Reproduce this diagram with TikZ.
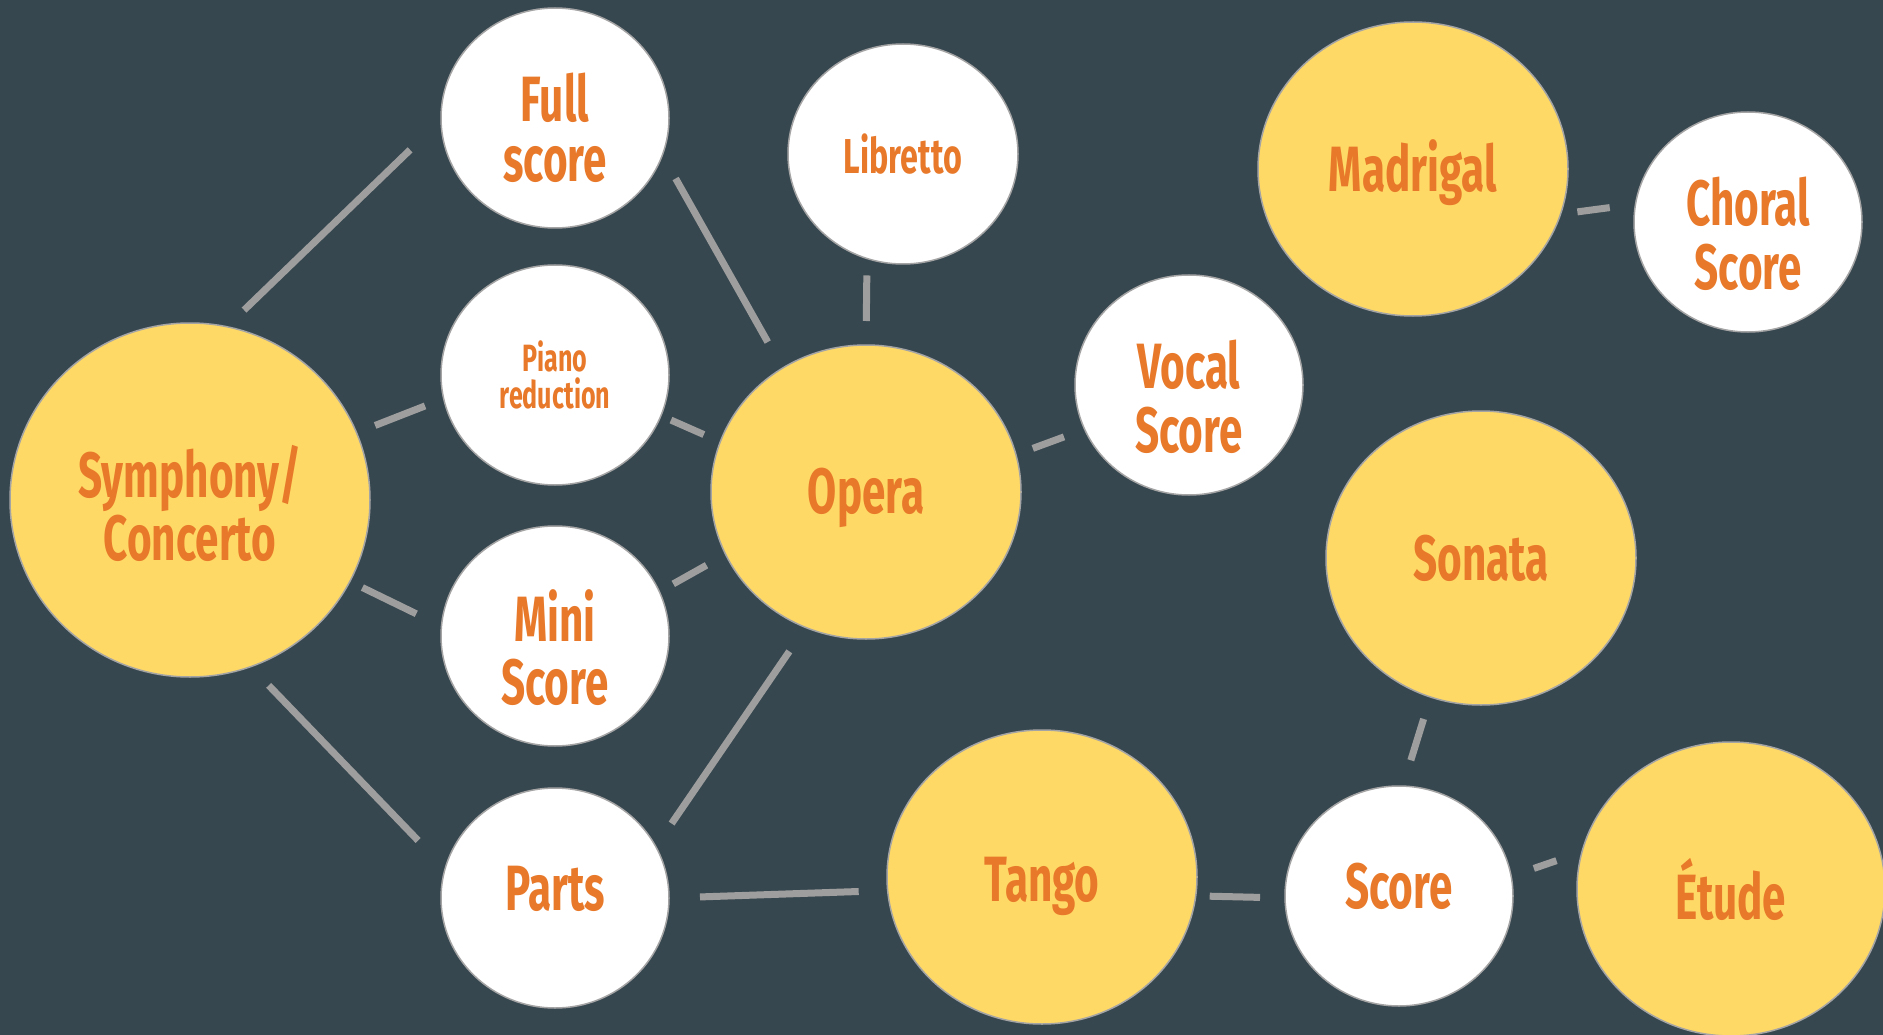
\documentclass[tikz,border=0pt]{standalone}
\usepackage{fontspec}
\usetikzlibrary{shapes.geometric}
\newfontfamily\labfont{Fira Sans}[FakeStretch=0.66]
\definecolor{bg}{HTML}{37474F}
\definecolor{yel}{HTML}{FFD966}
\definecolor{txt}{HTML}{E8792A}
\definecolor{edgegray}{HTML}{9E9E9E}
\definecolor{rimgray}{HTML}{A4A4A4}
\newcommand{\shifttxt}[2]{\raisebox{#1}[\height][\depth]{\begin{tabular}{@{}c@{}}#2\end{tabular}}}
\tikzset{
  bub/.style={ellipse, draw=rimgray, line width=1.5pt, inner sep=0pt, outer sep=0pt,
    text=txt, align=center, font=\labfont\bfseries\fontsize{64}{60}\selectfont},
  bigbub/.style={bub, fill=yel, minimum width=310pt, minimum height=294pt},
  smallbub/.style={bub, fill=white, minimum width=228pt, minimum height=220pt},
  conn/.style={draw=edgegray, line width=7pt}
}
\begin{document}
\begin{tikzpicture}[x=1pt,y=-1pt]
\useasboundingbox (0,0) rectangle (1883,1035);
\fill[bg] (0,0) rectangle (1883,1035);
\clip (0,0) rectangle (1883,1035);

\node[bigbub, minimum width=360pt, minimum height=354pt] (sym) at (190,500) {\shifttxt{-12pt}{Symphony/\\Concerto}};
\node[smallbub] (full) at (555,118) {\shifttxt{-18pt}{Full\\score}};
\node[smallbub, font=\labfont\bfseries\fontsize{38}{37}\selectfont] (piano) at (555,375) {Piano\\reduction};
\node[smallbub] (mini) at (555,636) {\shifttxt{-20pt}{Mini\\Score}};
\node[smallbub] (parts) at (555,898) {\shifttxt{1pt}{Parts}};
\node[smallbub, minimum width=230pt, font=\labfont\bfseries\fontsize{49}{50}\selectfont] (lib) at (903,154) {Libretto};
\node[bigbub] (opera) at (866,492) {\shifttxt{-8pt}{Opera}};
\node[smallbub] (vocal) at (1189,385) {\shifttxt{-20pt}{Vocal\\Score}};
\node[bigbub] (madr) at (1413,169) {\shifttxt{-6pt}{Madrigal}};
\node[smallbub] (choral) at (1748,222) {\shifttxt{-20pt}{Choral\\Score}};
\node[bigbub] (sonata) at (1481,558) {Sonata};
\node[bigbub] (tango) at (1042,877) {\shifttxt{-11pt}{Tango}};
\node[smallbub] (score) at (1399,896) {\shifttxt{1pt}{Score}};
\node[bigbub, minimum width=308pt] (etude) at (1731,889) {Étude};

\draw[conn, shorten <=24pt, shorten >=43pt] (sym.78.4) -- (full.181.8);
\draw[conn, shorten <=20pt, shorten >=20pt] (sym.22.0) -- (piano.192.7);
\draw[conn, shorten <=14pt, shorten >=28pt] (sym.333.6) -- (mini.175.5);
\draw[conn, shorten <=26pt, shorten >=39pt] (sym.290.8) -- (parts.165.3);
\draw[conn, shorten <=27pt, shorten >=30pt] (full.341.7) -- (opera.124.5);
\draw[conn, shorten <=11pt, shorten >=18pt] (piano.339.1) -- (opera.161.9);
\draw[conn, shorten <=16pt, shorten >=22pt] (mini.23.2) -- (opera.204.5);
\draw[conn, shorten <=28pt, shorten >=29pt] (parts.27.0) -- (opera.246.4);
\draw[conn, shorten <=17pt, shorten >=24pt] (lib.251.4) -- (opera.90.8);
\draw[conn, shorten <=18pt, shorten >=22pt] (opera.14.7) -- (vocal.203.5);
\draw[conn, shorten <=17pt, shorten >=26pt] (madr.343.6) -- (choral.171.7);
\draw[conn, shorten <=31pt, shorten >=29pt] (parts.0.6) -- (tango.185.3);
\draw[conn, shorten <=14pt, shorten >=25pt] (tango.353.7) -- (score.181.8);
\draw[conn, shorten <=27pt, shorten >=23pt] (score.88.7) -- (sonata.250.3);
\draw[conn, shorten <=24pt, shorten >=27pt] (score.10.9) -- (etude.166.4);
\end{tikzpicture}
\end{document}
